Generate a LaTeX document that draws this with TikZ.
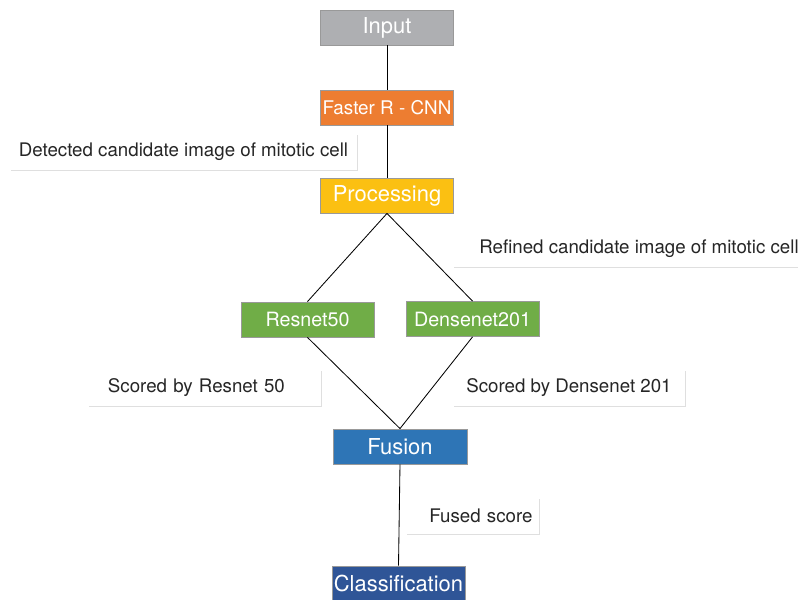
\documentclass[tikz,border=0pt]{standalone}
\usepackage{fontspec}
\setmainfont{TeX Gyre Heros}
\usetikzlibrary{shadows}
\definecolor{inputgray}{HTML}{AEAFB2}
\definecolor{fasterorange}{HTML}{ED7D31}
\definecolor{procyellow}{HTML}{FBC012}
\definecolor{netgreen}{HTML}{70AD47}
\definecolor{fusionblue}{HTML}{2E75B6}
\definecolor{classblue}{HTML}{2F5597}
\begin{document}
\begin{tikzpicture}[x=0.025cm,y=-0.025cm,
	stage/.style={rectangle,draw=black!40,line width=0.6pt,minimum width=3.325cm,minimum height=0.875cm,inner sep=0pt,text=white,font=\fontsize{15.6}{18}\selectfont,drop shadow={shadow xshift=0.5pt,shadow yshift=-0.7pt,opacity=0.3}},
	note/.style={rectangle,fill=white,minimum height=0.9cm,inner sep=0pt,text=black!85,font=\fontsize{13.3}{16}\selectfont,drop shadow={shadow xshift=0.6pt,shadow yshift=-0.9pt,opacity=0.25}}]
		\useasboundingbox (0,0) rectangle (798,600);
		\node at (387,27.5) [stage,fill=inputgray] (input) {Input};
		\node at (387,107.5) [stage,fill=fasterorange,font=\fontsize{13.4}{16}\selectfont] (faster) {Faster R - CNN};
		\node at (387,195.5) [stage,fill=procyellow] (proc) {Processing};
		\node at (307.5,319.5) [stage,fill=netgreen,font=\fontsize{14}{16}\selectfont] (resnet) {Resnet50};
		\node at (472.5,319) [stage,fill=netgreen,font=\fontsize{14}{16}\selectfont] (densenet) {Densenet201};
		\node at (400,446.5) [stage,fill=fusionblue,minimum width=3.35cm] (fusion) {Fusion};
		\node at (398.5,583.5) [stage,fill=classblue] (classif) {Classification};
		\draw[line width=0.6pt] (input) -- (faster);
		\draw[line width=0.6pt] (faster) -- (proc);
		\draw[line width=0.6pt] (proc.south) -- (resnet.north);
		\draw[line width=0.6pt] (proc.south) -- (densenet.north);
		\draw[line width=0.6pt] (resnet.south) -- (fusion.north);
		\draw[line width=0.6pt] (densenet.south) -- (fusion.north);
		\draw[line width=0.6pt] (fusion.south) -- (classif.north);
		\node at (183.5,152) [note,minimum width=8.675cm] (detected) {Detected candidate image of mitotic cell};
		\node at (639,249) [note,minimum width=9.3cm] (refined) {Refined candidate image of mitotic cell};
		\node at (204.5,388) [note,minimum width=5.825cm,text width=4.825cm,align=left] (scoredres) {Scored by Resnet 50};
		\node at (569,388) [note,minimum width=5.8cm] (scoredden) {Scored by Densenet 201};
		\node at (472.5,516) [note,minimum width=3.325cm,text width=3cm,align=right] (fused) {Fused score};
	\end{tikzpicture}
\end{document}
